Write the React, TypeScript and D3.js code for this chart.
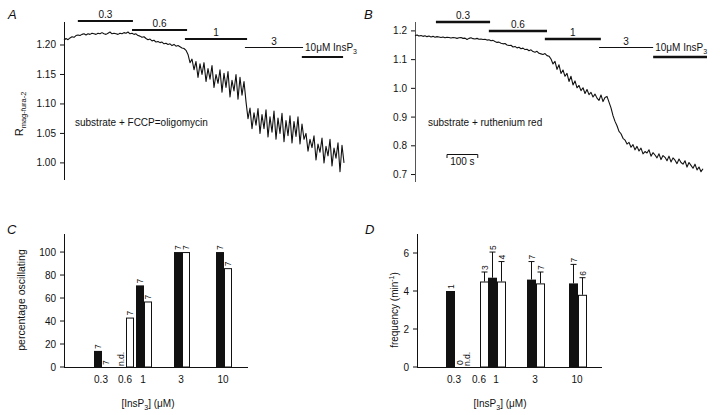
import React from 'react';
import * as d3 from 'd3';

// ---------- DATA ----------
const SAMPLE_S = 6.5; // seconds between samples of the traces

// Panel A: substrate + FCCP/oligomycin, R mag-fura-2
const traceA: number[] = [
  1.208, 1.211, 1.209, 1.212, 1.214, 1.213, 1.216, 1.217, 1.216, 1.218,
  1.219, 1.217, 1.219, 1.218, 1.220, 1.219, 1.218, 1.220, 1.219, 1.221,
  1.219, 1.218, 1.220, 1.222, 1.219, 1.220, 1.219, 1.218, 1.220, 1.219,
  1.221, 1.220, 1.222, 1.219, 1.220, 1.218, 1.219, 1.216, 1.215, 1.213,
  1.214, 1.211, 1.209, 1.210, 1.207, 1.208, 1.205, 1.206, 1.204, 1.205,
  1.202, 1.203, 1.201, 1.202, 1.199, 1.201, 1.198, 1.199, 1.197, 1.195,
  1.194, 1.191,
  1.184, 1.170, 1.176, 1.158, 1.172, 1.145, 1.168, 1.150, 1.170, 1.138,
  1.160, 1.142, 1.165, 1.128, 1.150, 1.135, 1.158, 1.120, 1.152, 1.128,
  1.155, 1.112, 1.140, 1.122, 1.150, 1.108, 1.145, 1.115, 1.138, 1.104,
  1.075, 1.093, 1.058, 1.085, 1.064, 1.092, 1.050, 1.082, 1.058, 1.090,
  1.044, 1.078, 1.052, 1.088, 1.040, 1.076, 1.050, 1.084, 1.036, 1.072,
  1.046, 1.080, 1.034, 1.070, 1.045, 1.078, 1.032, 1.066, 1.040,
  1.050, 1.020, 1.040, 1.026, 1.046, 1.005, 1.032, 1.018, 1.042, 1.000,
  1.028, 1.012, 1.040, 0.995, 1.025, 1.008, 1.034, 0.985, 1.030, 1.000,
];

// Panel B: substrate + ruthenium red
const traceB: number[] = [
  1.183, 1.186, 1.182, 1.184, 1.181, 1.183, 1.180, 1.182, 1.179, 1.181,
  1.178, 1.180, 1.179, 1.177, 1.179, 1.176, 1.178, 1.177, 1.175, 1.177,
  1.176, 1.174, 1.176, 1.177, 1.174, 1.175, 1.170, 1.174, 1.176, 1.173,
  1.172, 1.174, 1.171, 1.172, 1.170, 1.171, 1.168, 1.169, 1.166, 1.167,
  1.163, 1.160, 1.161, 1.157, 1.155, 1.156, 1.151, 1.149, 1.150, 1.144,
  1.146, 1.141, 1.143, 1.138, 1.140, 1.135, 1.136, 1.131, 1.134, 1.128,
  1.126, 1.129, 1.122, 1.120, 1.118, 1.121, 1.114, 1.112, 1.102, 1.085,
  1.094, 1.066, 1.082, 1.052, 1.064, 1.042, 1.052, 1.024, 1.042, 1.012,
  1.026, 1.002, 1.010, 0.992, 1.002, 0.982, 0.996, 0.978, 0.986, 0.970,
  0.980, 0.966, 0.958, 0.977, 0.954, 0.968, 0.972, 0.952, 0.932, 0.905,
  0.885, 0.870, 0.850, 0.842, 0.826, 0.820, 0.806, 0.812, 0.795, 0.804,
  0.786, 0.798, 0.782, 0.792, 0.772, 0.780, 0.775, 0.786, 0.764, 0.776,
  0.768, 0.758, 0.772, 0.752, 0.766, 0.760, 0.748, 0.764, 0.744, 0.758,
  0.750, 0.738, 0.754, 0.742, 0.736, 0.748, 0.726, 0.742, 0.732, 0.722,
  0.736, 0.716, 0.726, 0.710, 0.720,
];

const stimLabels = ['0.3', '0.6', '1', '3', '10'];
const stimA: [number, number][] = [[45, 224], [221, 400], [393, 595], [588, 777], [773, 907]];
const stimB: [number, number][] = [[68, 244], [240, 429], [422, 604], [598, 774], [774, 949]];
const scaleBarStartS = 104;
const scaleBarLenS = 100;

const ticksA = [1.0, 1.05, 1.1, 1.15, 1.2];
const ticksB = [0.7, 0.8, 0.9, 1.0, 1.1, 1.2];

// Panels C & D
const concs = [0.3, 0.6, 1, 3, 10];
const concTickLabels = ['0.3', '0.6', '1', '3', '10'];

const pctFCCP: (number | null)[] = [14, null, 71, 100, 100];
const pctRR: (number | null)[] = [0, 43, 57, 100, 86];
const nPctFCCP = ['7', 'n.d.', '7', '7', '7'];
const nPctRR = ['7', '7', '7', '7', '7'];
const ticksC = [0, 20, 40, 60, 80, 100];

const freqFCCP: (number | null)[] = [4.0, null, 4.7, 4.6, 4.4];
const semFCCP: (number | null)[] = [0, null, 1.35, 0.95, 1.0];
const nFreqFCCP = ['1', 'n.d.', '5', '7', '7'];
const freqRR: (number | null)[] = [null, 4.5, 4.5, 4.4, 3.8];
const semRR: (number | null)[] = [null, 0.5, 1.05, 0.6, 0.9];
const nFreqRR = ['0', '3', '4', '7', '6'];
const ticksD = [0, 2, 4, 6];

// ---------- STYLE ----------
const FONT = "'Liberation Sans', Arial, Helvetica, sans-serif";
const INK = '#111';
const stimYA = [21, 30, 39, 47.5, 57];
const stimYB = [22, 31, 39, 47.5, 57];
const stimWA = [1.8, 2, 2, 1, 2];
const stimWB = [2.5, 2.5, 2.5, 1, 2.5];

function TracePanel(props: {
  trace: number[]; xs: any; ys: any; ticks: number[]; fmt: string; axisX: number;
  axisTop: number; axisBottom: number; stim: [number, number][]; stimY: number[]; stimW: number[];
  axisColor: string;
}) {
  const { trace, xs, ys, ticks, fmt, axisX, axisTop, axisBottom, stim, stimY, stimW, axisColor } = props;
  const line = d3.line<number>().x((_, i) => xs(i * SAMPLE_S)).y((d) => ys(d));
  const f = d3.format(fmt);
  return (
    <g>
      <line x1={axisX + 0.5} x2={axisX + 0.5} y1={axisTop} y2={axisBottom} stroke={axisColor} strokeWidth={1} />
      {ticks.map((t) => (
        <g key={t}>
          <line x1={axisX - 4} x2={axisX} y1={ys(t)} y2={ys(t)} stroke={INK} strokeWidth={1} />
          <text x={axisX - 8} y={ys(t) + 3.5} textAnchor="end" fontSize={10} fill={INK}>{f(t)}</text>
        </g>
      ))}
      <path d={line(trace) || ''} fill="none" stroke={INK} strokeWidth={1.1} strokeLinejoin="round" />
      {stim.map(([a, b], i) => (
        <line key={i} x1={xs(a)} x2={xs(b)} y1={stimY[i]} y2={stimY[i]} stroke={INK} strokeWidth={stimW[i]} />
      ))}
      {stim.slice(0, 4).map(([a, b], i) => (
        <text key={'l' + i} x={(xs(a) + xs(b)) / 2} y={Math.round(stimY[i]) - 3} textAnchor="middle" fontSize={10} fill={INK}>
          {stimLabels[i]}
        </text>
      ))}
      <text x={xs(stim[3][1]) + 2} y={stimY[3] + 3.5} fontSize={10} fill={INK}>
        {stimLabels[4]}μM InsP<tspan fontSize={7} dy={2.5}>3</tspan>
      </text>
    </g>
  );
}

function BarPanel(props: {
  xs: any; ys: any; ticks: number[]; axisX: number; axisRight: number; axisTop: number;
  black: (number | null)[]; white: (number | null)[]; errBlack?: (number | null)[]; errWhite?: (number | null)[];
  nBlack: string[]; nWhite: string[]; barW: number; ndOffset: number;
}) {
  const { xs, ys, ticks, axisX, axisRight, axisTop, black, white, errBlack, errWhite, nBlack, nWhite, barW, ndOffset } = props;
  const base = ys(0);
  const rotText = (x: number, y: number, s: string, key: string) => (
    <text key={key} transform={`translate(${x},${y}) rotate(-90)`} fontSize={8.5} fill={INK}>{s}</text>
  );
  return (
    <g>
      <line x1={axisX + 0.5} x2={axisX + 0.5} y1={axisTop} y2={base} stroke={INK} strokeWidth={1} />
      <line x1={axisX} x2={axisRight} y1={base + 0.5} y2={base + 0.5} stroke={INK} strokeWidth={1} />
      {ticks.map((t) => (
        <g key={t}>
          <line x1={axisX - 4} x2={axisX} y1={ys(t)} y2={ys(t)} stroke={INK} strokeWidth={1} />
          <text x={axisX - 8} y={ys(t) + 3.5} textAnchor="end" fontSize={10} fill={INK}>{t}</text>
        </g>
      ))}
      {concs.map((c, i) => {
        const seam = Math.round(xs(c));
        const els: any[] = [];
        const bv = black[i];
        if (bv !== null && bv !== undefined) {
          const top = ys(bv);
          els.push(<rect key="b" x={seam - barW} y={top} width={barW} height={base - top} fill={INK} />);
          let labY = top - 2;
          const e = errBlack ? errBlack[i] : null;
          if (e) {
            const et = ys(bv + e);
            els.push(<line key="be" x1={seam - barW / 2} x2={seam - barW / 2} y1={top} y2={et} stroke={INK} strokeWidth={1} />);
            els.push(<line key="bc" x1={seam - barW / 2 - 3} x2={seam - barW / 2 + 3} y1={et} y2={et} stroke={INK} strokeWidth={1} />);
            labY = et - 2;
          }
          els.push(rotText(seam - barW / 2 + 3, labY, nBlack[i], 'bn'));
        } else {
          els.push(rotText(seam - barW / 2 + 3 - ndOffset, base - 1, nBlack[i], 'bnd'));
        }
        const wv = white[i];
        if (wv !== null && wv !== undefined) {
          const top = ys(wv);
          if (wv > 0) {
            els.push(<rect key="w" x={seam + 0.5} y={top + 0.5} width={barW - 1} height={base - top - 0.5} fill="#fff" stroke={INK} strokeWidth={1} />);
          }
          let labY = top - 2;
          const e = errWhite ? errWhite[i] : null;
          if (e) {
            const et = ys(wv + e);
            els.push(<line key="we" x1={seam + barW / 2} x2={seam + barW / 2} y1={top} y2={et} stroke={INK} strokeWidth={1} />);
            els.push(<line key="wc" x1={seam + barW / 2 - 3} x2={seam + barW / 2 + 3} y1={et} y2={et} stroke={INK} strokeWidth={1} />);
            labY = et - 2;
          }
          els.push(rotText(seam + barW / 2 + 3, labY, nWhite[i], 'wn'));
        } else {
          els.push(rotText(seam + barW / 2 + 3, base - 2, nWhite[i], 'wnd'));
        }
        els.push(
          <text key="tl" x={seam - 1} y={base + 16} textAnchor="middle" fontSize={10} fill={INK}>{concTickLabels[i]}</text>
        );
        return <g key={c}>{els}</g>;
      })}
    </g>
  );
}

export default function App() {
  const xA = d3.scaleLinear().domain([0, (traceA.length - 1) * SAMPLE_S]).range([64, 344]);
  const yA = d3.scaleLinear().domain([0.971, 1.239]).range([180, 22]);
  const xB = d3.scaleLinear().domain([0, (traceB.length - 1) * SAMPLE_S]).range([415, 703]);
  const yB = d3.scaleLinear().domain([0.674, 1.231]).range([182, 22]);

  const xC = d3.scaleLog().domain([0.1, 20]).range([64, 248]);
  const yC = d3.scaleLinear().domain([0, 115.7]).range([367, 234]);
  const xD = d3.scaleLog().domain([0.1, 20]).range([417, 602]);
  const yD = d3.scaleLinear().domain([0, 7]).range([367, 234]);

  const sb0 = xB(scaleBarStartS);
  const sb1 = xB(scaleBarStartS + scaleBarLenS);

  return (
    <svg width={720} height={415} style={{ position: 'absolute', left: 0, top: 0, background: '#fff' }}
      fontFamily={FONT}>
      <rect x={0} y={0} width={720} height={415} fill="#fff" />
      {/* Panel letters */}
      <text x={8} y={19} fontSize={13} fontStyle="italic" fill={INK}>A</text>
      <text x={364} y={19} fontSize={13} fontStyle="italic" fill={INK}>B</text>
      <text x={7} y={234} fontSize={13} fontStyle="italic" fill={INK}>C</text>
      <text x={365} y={234} fontSize={13} fontStyle="italic" fill={INK}>D</text>

      <TracePanel trace={traceA} xs={xA} ys={yA} ticks={ticksA} fmt=".2f" axisX={64} axisTop={22} axisBottom={180}
        stim={stimA} stimY={stimYA} stimW={stimWA} axisColor={INK} />
      <text transform="translate(23,114) rotate(-90)" textAnchor="middle" fontSize={11} fill={INK}>
        R<tspan fontSize={7.5} dy={3}>mag-fura-2</tspan>
      </text>
      <text x={75} y={126} fontSize={10} fill={INK}>substrate + FCCP=oligomycin</text>

      <TracePanel trace={traceB} xs={xB} ys={yB} ticks={ticksB} fmt=".1f" axisX={415} axisTop={22} axisBottom={182}
        stim={stimB} stimY={stimYB} stimW={stimWB} axisColor="#555" />
      <text x={428} y={126} fontSize={10} fill={INK}>substrate + ruthenium red</text>
      <path d={`M${sb0},${158}V${154.5}H${sb1}V${158}`} fill="none" stroke={INK} strokeWidth={1} />
      <text x={(sb0 + sb1) / 2} y={165} textAnchor="middle" fontSize={10} fill={INK}>100 s</text>

      <BarPanel xs={xC} ys={yC} ticks={ticksC} axisX={64} axisRight={248} axisTop={234}
        black={pctFCCP} white={pctRR} nBlack={nPctFCCP} nWhite={nPctRR} barW={8} ndOffset={1} />
      <text transform="translate(25,300) rotate(-90)" textAnchor="middle" fontSize={10.5} fill={INK}>percentage oscillating</text>
      <text x={148} y={407} textAnchor="middle" fontSize={10} fill={INK}>
        [InsP<tspan fontSize={7} dy={2.5}>3</tspan><tspan dy={-2.5}>] (μM)</tspan>
      </text>

      <BarPanel xs={xD} ys={yD} ticks={ticksD} axisX={417} axisRight={602} axisTop={234}
        black={freqFCCP} white={freqRR} errBlack={semFCCP} errWhite={semRR}
        nBlack={nFreqFCCP} nWhite={nFreqRR} barW={9} ndOffset={9} />
      <text transform="translate(398,310) rotate(-90)" textAnchor="middle" fontSize={10} fill={INK}>
        frequency (min<tspan fontSize={7} dy={-4}>-1</tspan><tspan dy={4}>)</tspan>
      </text>
      <text x={500} y={407} textAnchor="middle" fontSize={10} fill={INK}>
        [InsP<tspan fontSize={7} dy={2.5}>3</tspan><tspan dy={-2.5}>] (μM)</tspan>
      </text>
    </svg>
  );
}
